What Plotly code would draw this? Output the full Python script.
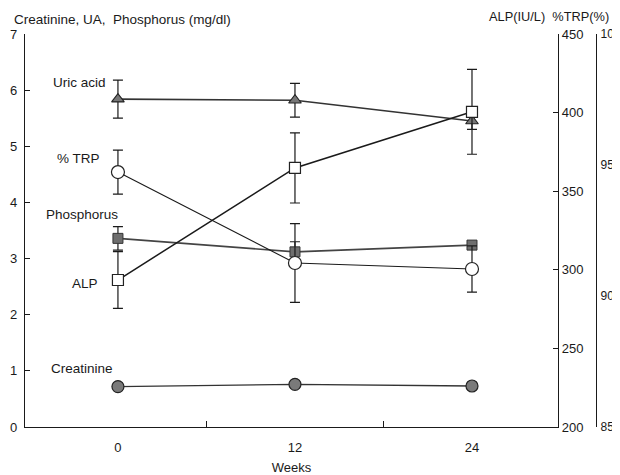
import plotly.graph_objects as go

weeks = [0, 12, 24]

uric_acid = [5.84, 5.82, 5.45]
uric_acid_err = [0.34, 0.30, 0.15]

phosphorus = [3.36, 3.12, 3.24]
phosphorus_err = [0.21, 0.18, 0.0]

creatinine = [0.72, 0.76, 0.73]

alp = [293.5, 364.8, 400.5]
alp_err = [18, 22.3, 27]

trp = [94.73, 91.26, 91.03]
trp_err = [0.84, 1.5, 0.88]

x_tick_vals = [0, 12, 24]
x_tick_text = ["0", "12", "24"]
x_minor_ticks = [6, 18]
left_ticks = [0, 1, 2, 3, 4, 5, 6, 7]
alp_ticks = [200, 250, 300, 350, 400, 450]
trp_ticks = [85, 90, 95, 100]

# the page body adds an 8px offset; geometry below is in screen pixels
OFF = 8
W, H = 620 - OFF, 475 - OFF
L, T = 25 - OFF, 34 - OFF
B = H - (427 - OFF)
R = W - (618 - OFF)
PW = W - L - R
PH = H - T - B
AX_RIGHT = 558
TRP_AX = 596


def px(x):
    return (x - OFF - L) / PW


def py(y):
    return (H - B - (y - OFF)) / PH


FONT = "Liberation Sans, Arial, Helvetica, sans-serif"
INK = "#1a1a1a"

fig = go.Figure()

err_style = dict(type="data", color=INK, thickness=1.2, width=5)

# Creatinine
fig.add_trace(go.Scatter(
    x=weeks, y=creatinine, mode="lines+markers", yaxis="y",
    line=dict(color="#333", width=1.4),
    marker=dict(symbol="circle", size=12, color="#7a7a7a", line=dict(color="#222", width=1.2)),
    showlegend=False))

# %TRP
fig.add_trace(go.Scatter(
    x=weeks, y=trp, mode="lines+markers", yaxis="y3",
    line=dict(color=INK, width=1.1),
    error_y=dict(array=trp_err, **err_style),
    marker=dict(symbol="circle", size=13, color="white", line=dict(color="#222", width=1.2)),
    showlegend=False))

# Phosphorus
fig.add_trace(go.Scatter(
    x=weeks, y=phosphorus, mode="lines+markers", yaxis="y",
    line=dict(color="#444", width=1.6),
    error_y=dict(array=phosphorus_err, **err_style),
    marker=dict(symbol="square", size=10, color="#6e6e6e", line=dict(color="#333", width=1)),
    showlegend=False))

# Uric acid
fig.add_trace(go.Scatter(
    x=weeks, y=uric_acid, mode="lines+markers", yaxis="y",
    line=dict(color="#333", width=1.6),
    error_y=dict(array=uric_acid_err, **err_style),
    marker=dict(symbol="triangle-up", size=11, color="#777", line=dict(color="#222", width=1.1)),
    showlegend=False))

# ALP
fig.add_trace(go.Scatter(
    x=weeks, y=alp, mode="lines+markers", yaxis="y2",
    line=dict(color=INK, width=1.5),
    error_y=dict(array=alp_err, **err_style),
    marker=dict(symbol="square", size=11, color="white", line=dict(color="#222", width=1.2)),
    showlegend=False))

fig.update_layout(
    width=W, height=H,
    margin=dict(l=L, r=R, t=T, b=B, autoexpand=False),
    paper_bgcolor="white", plot_bgcolor="white",
    font=dict(family=FONT, size=13, color=INK),
    xaxis=dict(
        domain=[0, px(AX_RIGHT)], range=[-6.3, 29.83],
        tickmode="array", tickvals=x_tick_vals, ticktext=x_tick_text,
        ticks="", showgrid=False, zeroline=False,
        showline=True, linecolor=INK, linewidth=1.3,
        tickfont=dict(size=13), ticklabelstandoff=8,
        minor=dict(tickmode="array", tickvals=x_minor_ticks, ticks="inside",
                   ticklen=6, tickcolor=INK, tickwidth=1.2, showgrid=False),
        title=dict(text="Weeks", font=dict(size=13), standoff=9),
        automargin=False,
    ),
    yaxis=dict(
        range=[0, 7], tickmode="array", tickvals=left_ticks,
        ticks="inside", ticklen=5, tickcolor=INK, tickwidth=1.2,
        showgrid=False, zeroline=False,
        showline=True, linecolor=INK, linewidth=1.3,
        tickfont=dict(size=13), ticklabelstandoff=4, automargin=False,
    ),
    yaxis2=dict(
        range=[200, 450], overlaying="y", side="right", anchor="x",
        tickmode="array", tickvals=alp_ticks,
        ticks="inside", ticklen=5, tickcolor=INK, tickwidth=1.2,
        showgrid=False, zeroline=False,
        showline=True, linecolor=INK, linewidth=1.3,
        tickfont=dict(size=13), automargin=False,
    ),
    yaxis3=dict(
        range=[85, 100], overlaying="y", side="right", anchor="free",
        position=px(TRP_AX),
        tickmode="array", tickvals=trp_ticks,
        ticks="", showgrid=False, zeroline=False,
        showline=True, linecolor=INK, linewidth=1.3,
        tickfont=dict(size=12), ticklabelstandoff=1, automargin=False,
    ),
)

labels = [
    ("Uric acid", 108, 82),
    ("% TRP", 102, 158),
    ("Phosphorus", 120, 215),
    ("ALP", 100, 283),
    ("Creatinine", 115, 368),
]
for text, xr, yc in labels:
    fig.add_annotation(text=text, xref="paper", yref="paper", x=px(xr), y=py(yc),
                       xanchor="right", yanchor="middle", showarrow=False,
                       font=dict(size=13.5, family=FONT, color=INK))

fig.add_annotation(text="Creatinine, UA,  Phosphorus (mg/dl)", xref="paper", yref="paper",
                   x=px(12), y=py(19), xanchor="left", yanchor="middle", showarrow=False,
                   font=dict(size=13.5, family=FONT, color=INK))
fig.add_annotation(text="ALP(IU/L)  %TRP(%)", xref="paper", yref="paper",
                   x=px(487), y=py(17), xanchor="left", yanchor="middle", showarrow=False,
                   font=dict(size=12.8, family=FONT, color=INK))

fig.write_html("out.html")
